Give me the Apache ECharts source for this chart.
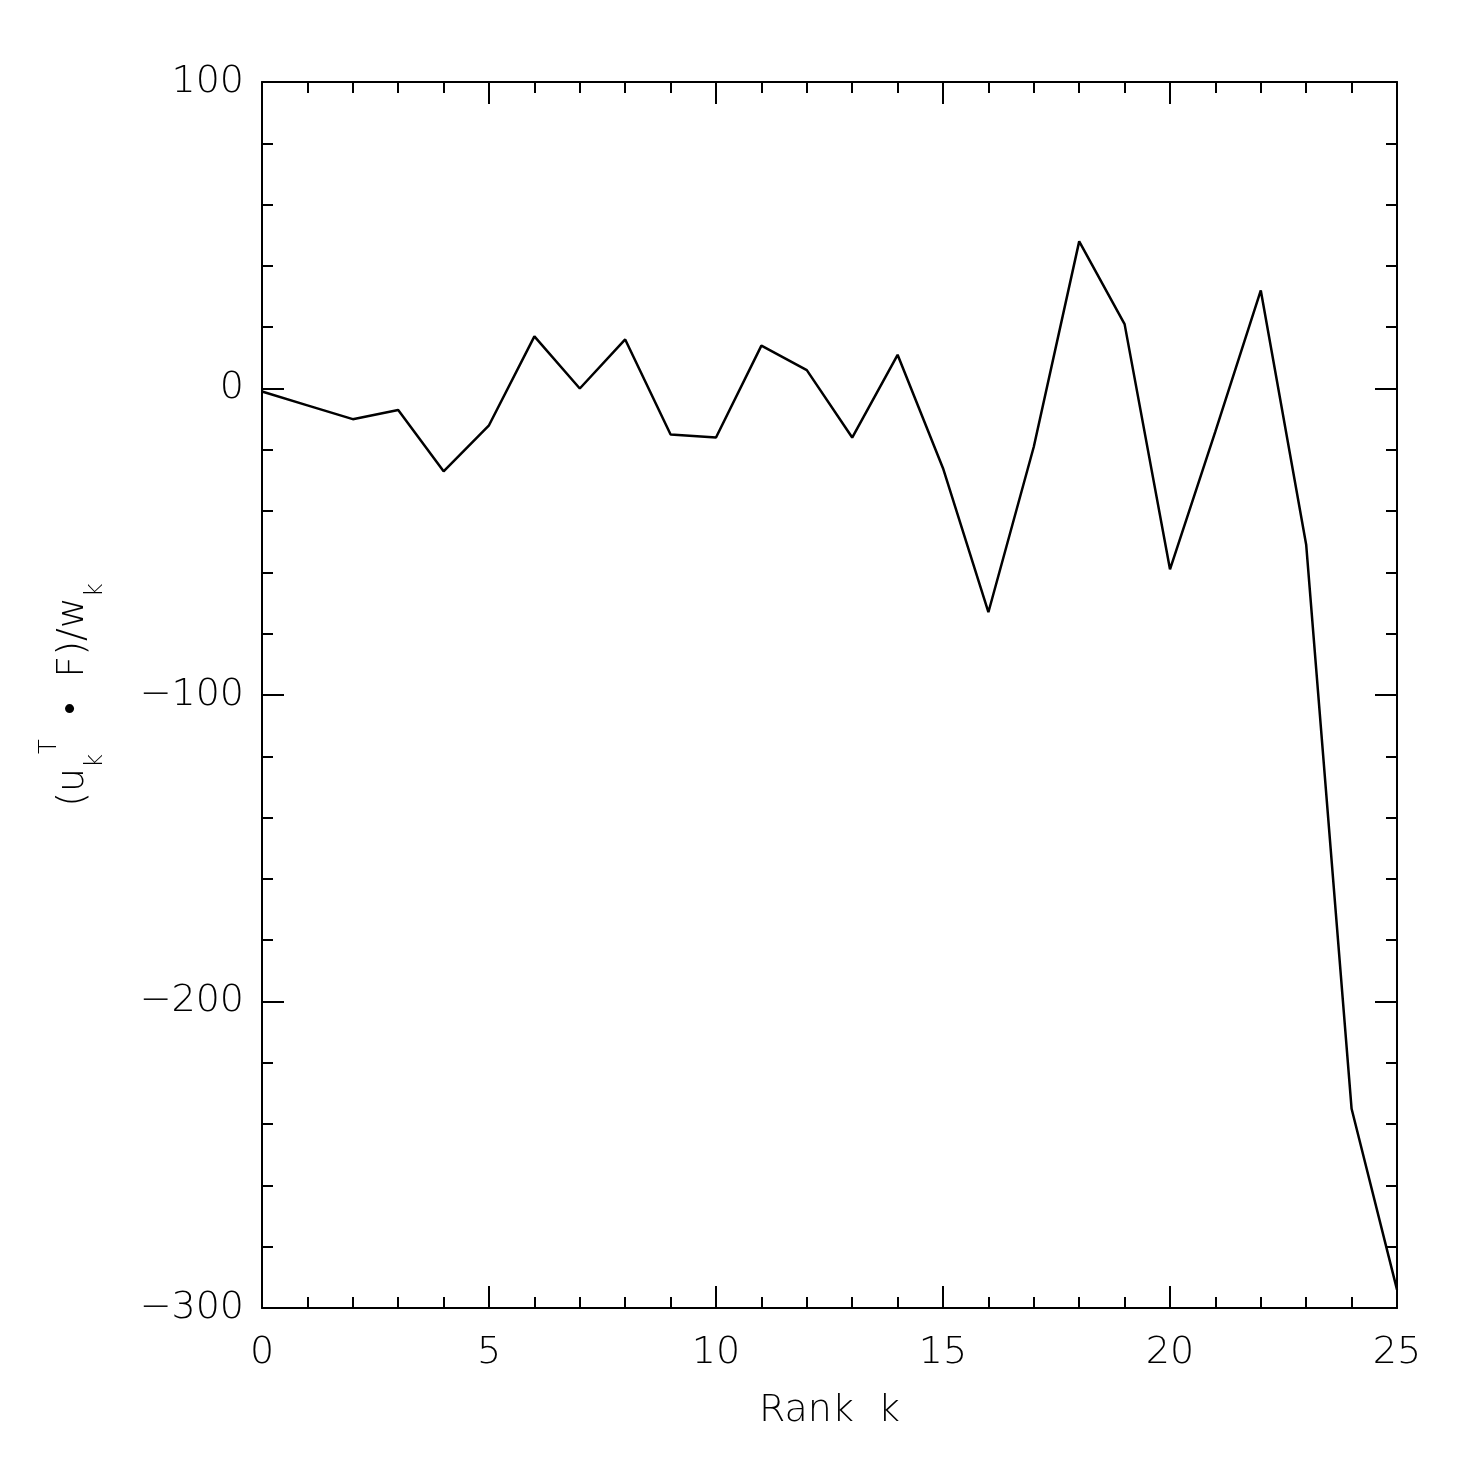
<!DOCTYPE html>
<html><head><meta charset="utf-8">
<script src="https://cdn.jsdelivr.net/npm/echarts@6/dist/echarts.min.js"></script>
<style>html,body{margin:0;background:#fff}#c{width:1475px;height:1475px}</style>
</head><body><div id="c"></div>
<script>
const ranks = [0,1,2,3,4,5,6,7,8,9,10,11,12,13,14,15,16,17,18,19,20,21,22,23,24,25];
const values = [-1,-5.5,-10,-7,-27,-12,17,0,16,-15,-16,14,6,-16,11,-26,-73,-19,48,21,-59,-14,32,-51,-235,-294];
const xTitle = 'Rank  k';
const chart = echarts.init(document.getElementById('c'));
const font = 'DejaVu Sans';
const lbl = {color:'#000', fontSize:38, fontFamily:font, fontWeight:200};
const mt = {show:true,splitNumber:5,length:11,lineStyle:{color:'#000',width:2}};
function ax(show, extra){
  return Object.assign({type:'value', axisLine:{show:true,onZero:false,lineStyle:{color:'#000',width:2}},
    axisTick:{show:true,inside:true,length:22,lineStyle:{color:'#000',width:2}},
    minorTick:mt, splitLine:{show:false}, axisLabel:Object.assign({show:show},lbl)}, extra);
}
chart.setOption({
  animation:false,
  grid:{left:262,right:78,top:82,bottom:167},
  xAxis:[ax(true,{min:0,max:25,interval:5,axisLabel:Object.assign({margin:26},lbl),
      name:xTitle,nameLocation:'middle',nameGap:84,nameTextStyle:lbl}),
    ax(false,{min:0,max:25,interval:5,position:'top'})],
  yAxis:[ax(true,{min:-300,max:100,interval:100,
      axisLabel:Object.assign({margin:18,formatter:v=>v<0?'\u2212'+(-v):String(v)},lbl),
      name:'{n|(u}{s|k}{p|T}{n|  •  F)/w}{s|k}',nameLocation:'middle',nameGap:170,
      nameTextStyle:{rich:{n:lbl,s:Object.assign({},lbl,{fontSize:24,verticalAlign:'bottom',padding:[0,0,-16,0]}),p:Object.assign({},lbl,{fontSize:24,verticalAlign:'top',padding:[-16,0,0,0]})}}}),
    ax(false,{min:-300,max:100,interval:100,position:'right'})],
  series:[{type:'line',data:ranks.map((r,i)=>[r,values[i]]),showSymbol:false,lineStyle:{color:'#000',width:2.5}}]
});
</script></body></html>
